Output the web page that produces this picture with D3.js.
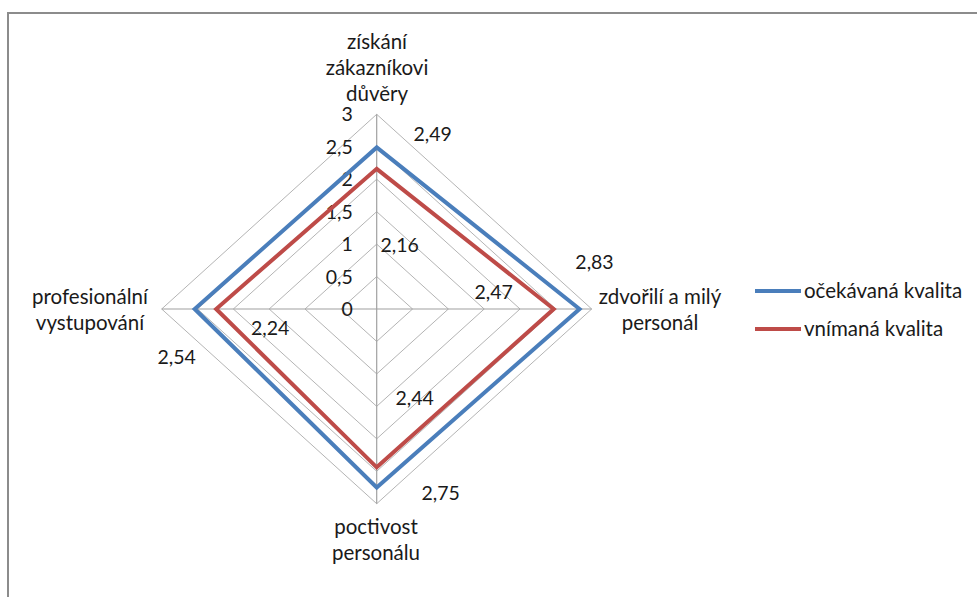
<!DOCTYPE html>
<html>
<head>
<meta charset="utf-8">
<script src="https://cdn.jsdelivr.net/npm/d3@7"></script>
<style>
  body { margin: 0; background: #fff; }
  text { font-family: Lato, "Noto Sans", sans-serif; fill: #1a1a1a; }
</style>
</head>
<body>
<div id="app"></div>
<script>
const axes = [
  ["získání", "zákazníkovi", "důvěry"],
  ["zdvořilí a milý", "personál"],
  ["poctivost", "personálu"],
  ["profesionální", "vystupování"]
];
const seriesNames = ["očekávaná kvalita", "vnímaná kvalita"];
const expected = [2.49, 2.83, 2.75, 2.54];
const perceived = [2.16, 2.47, 2.44, 2.24];
const ticks = [0, 0.5, 1, 1.5, 2, 2.5, 3];

const width = 977;
const height = 597;
const cx = 376.7;
const cy = 309;
const colors = ["#4a7ebb", "#be4b48"];

// plot area is stretched a bit wider than tall
const rx = d3.scaleLinear().domain([0, 3]).range([0, 215]);
const ry = d3.scaleLinear().domain([0, 3]).range([0, 194.7]);

// directions: top, right, bottom, left
const dirs = [[0, -1], [1, 0], [0, 1], [-1, 0]];
const pt = (v, i) => [cx + dirs[i][0] * rx(v), cy + dirs[i][1] * ry(v)];

const svg = d3.select("#app")
  .append("svg")
  .attr("width", width)
  .attr("height", height);

svg.append("rect")
  .attr("x", 8)
  .attr("y", 13)
  .attr("width", 1000)
  .attr("height", 700)
  .attr("fill", "#fff")
  .attr("stroke", "#8c8c8c")
  .attr("stroke-width", 2);

const line = d3.line().curve(d3.curveLinearClosed);

// grid rings
svg.selectAll("path.ring")
  .data(ticks.filter(t => t > 0))
  .join("path")
  .attr("class", "ring")
  .attr("d", t => line(dirs.map((d, i) => pt(t, i))))
  .attr("fill", "none")
  .attr("stroke", "#b4b4b4")
  .attr("stroke-width", 1);

// spokes
svg.selectAll("line.spoke")
  .data(dirs)
  .join("line")
  .attr("class", "spoke")
  .attr("x1", cx)
  .attr("y1", cy)
  .attr("x2", (d, i) => pt(3, i)[0])
  .attr("y2", (d, i) => pt(3, i)[1])
  .attr("stroke", "#a0a0a0")
  .attr("stroke-width", 1.2);

// tick labels on the top axis
svg.selectAll("text.tick")
  .data(ticks)
  .join("text")
  .attr("class", "tick")
  .attr("x", cx - 24)
  .attr("y", t => pt(t, 0)[1])
  .attr("dy", "0.36em")
  .attr("text-anchor", "end")
  .attr("font-size", 19.5)
  .text(t => String(t).replace(".", ","));

// series
const series = [expected, perceived];
svg.selectAll("path.series")
  .data(series)
  .join("path")
  .attr("class", "series")
  .attr("d", s => line(s.map((v, i) => pt(v, i))))
  .attr("fill", "none")
  .attr("stroke", (s, k) => colors[k])
  .attr("stroke-width", 4)
  .attr("stroke-linejoin", "miter");

// data labels (offsets from point)
const labelOffsets = [
  [[56, -13], [15, -47], [64, 6], [-18, 48]],
  [[23, 76], [-60, -17], [38, -69], [54, 19]]
];
series.forEach((s, k) => {
  svg.selectAll("text.val" + k)
    .data(s)
    .join("text")
    .attr("class", "val" + k)
    .attr("x", (v, i) => pt(v, i)[0] + labelOffsets[k][i][0])
    .attr("y", (v, i) => pt(v, i)[1] + labelOffsets[k][i][1])
    .attr("dy", "0.36em")
    .attr("text-anchor", "middle")
    .attr("font-size", 19.5)
    .text(v => d3.format(".2f")(v).replace(".", ","));
});

// axis category labels
const axisPos = [[377, 42], [660, 297], [376, 527], [90, 297]];
axes.forEach((lines, i) => {
  const t = svg.append("text")
    .attr("text-anchor", "middle")
    .attr("font-size", 20.5);
  lines.forEach((l, j) => {
    t.append("tspan")
      .attr("x", axisPos[i][0])
      .attr("y", axisPos[i][1] + j * 26)
      .attr("dy", "0.36em")
      .text(l);
  });
});

// legend
const legend = svg.selectAll("g.legend")
  .data(seriesNames)
  .join("g")
  .attr("class", "legend")
  .attr("transform", (d, i) => `translate(755, ${291 + i * 38})`);
legend.append("line")
  .attr("x1", 0)
  .attr("x2", 46)
  .attr("stroke", (d, i) => colors[i])
  .attr("stroke-width", 4);
legend.append("text")
  .attr("x", 49)
  .attr("dy", "0.36em")
  .attr("font-size", 20.5)
  .text(d => d);
</script>
</body>
</html>
